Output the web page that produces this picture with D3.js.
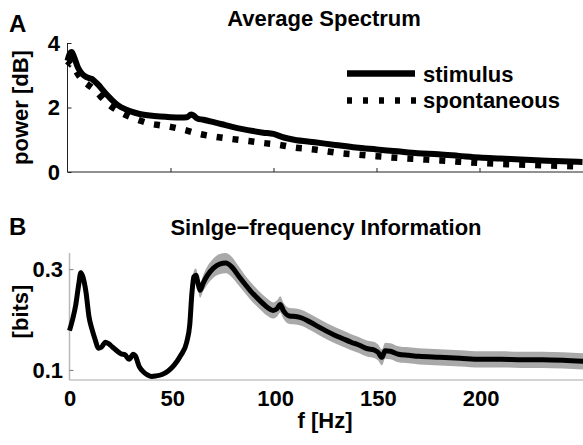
<!DOCTYPE html>
<html>
<head>
<meta charset="utf-8">
<script src="https://cdn.jsdelivr.net/npm/d3@7"></script>
<style>
  body { margin: 0; background: #fff; }
  text { font-family: "Liberation Sans", Arial, sans-serif; font-weight: bold; }
</style>
</head>
<body>
<div id="chart"></div>
<script>
// panel A: average spectrum
const specFreq = [0, 1, 2, 3, 5, 7, 9, 11, 12, 13, 15, 17, 19, 21, 23, 25, 28, 31, 35, 40, 45, 50, 55, 58, 60, 61, 63, 66, 70, 75, 80, 85, 90, 95, 100, 105, 110, 120, 130, 140, 150, 160, 170, 180, 190, 200, 210, 220, 230, 240, 250];
const stimulus = [3.45, 3.65, 3.72, 3.6, 3.25, 3.05, 2.95, 2.9, 2.88, 2.82, 2.7, 2.55, 2.4, 2.27, 2.15, 2.05, 1.95, 1.87, 1.8, 1.75, 1.72, 1.7, 1.69, 1.7, 1.78, 1.76, 1.66, 1.62, 1.56, 1.48, 1.4, 1.33, 1.27, 1.22, 1.18, 1.07, 1.0, 0.92, 0.84, 0.76, 0.7, 0.64, 0.58, 0.55, 0.5, 0.45, 0.42, 0.39, 0.36, 0.33, 0.31];
const spontFreq = [0, 2, 4, 6, 8, 10, 13, 16, 19, 22, 25, 30, 35, 40, 45, 50, 57, 64, 72, 80, 88, 95, 103, 110, 118, 126, 133, 141, 150, 160, 170, 181, 190, 200, 215, 230, 250];
const spontaneous = [3.3, 3.4, 3.15, 2.95, 2.8, 2.7, 2.55, 2.35, 2.15, 2.0, 1.88, 1.72, 1.6, 1.5, 1.45, 1.4, 1.3, 1.18, 1.09, 1.02, 0.96, 0.9, 0.84, 0.76, 0.71, 0.64, 0.58, 0.54, 0.49, 0.44, 0.4, 0.36, 0.32, 0.28, 0.24, 0.21, 0.17];

// panel B: single-frequency information
const infoFreq = [0, 1.5, 3, 4.5, 5.5, 6.5, 8, 9.5, 11, 12.5, 14, 15.5, 17.5, 19, 21, 23, 25, 27, 29, 31, 32, 34, 36, 38, 40, 42, 45, 48, 51, 54, 57, 58.5, 59.5, 60.5, 61.5, 62.5, 63.5, 65, 67, 70, 73, 76, 79, 82, 85, 88, 92, 96, 99, 101, 102.5, 104, 107, 110, 113, 117, 121, 125, 129, 133, 137, 141, 145, 148, 150, 152, 153.5, 156, 160, 165, 170, 180, 190, 200, 210, 220, 230, 240, 250];
const info = [0.178, 0.2, 0.228, 0.27, 0.293, 0.285, 0.255, 0.205, 0.18, 0.16, 0.143, 0.145, 0.155, 0.152, 0.145, 0.138, 0.132, 0.13, 0.121, 0.131, 0.128, 0.106, 0.096, 0.09, 0.087, 0.088, 0.091, 0.098, 0.11, 0.128, 0.155, 0.19, 0.25, 0.285, 0.288, 0.272, 0.258, 0.272, 0.287, 0.302, 0.31, 0.312, 0.304, 0.288, 0.272, 0.257, 0.24, 0.225, 0.218, 0.222, 0.23, 0.218, 0.207, 0.206, 0.203, 0.195, 0.186, 0.177, 0.169, 0.162, 0.155, 0.149, 0.142, 0.14, 0.135, 0.125, 0.138, 0.137, 0.131, 0.129, 0.127, 0.125, 0.123, 0.121, 0.121, 0.12, 0.12, 0.119, 0.117];
const infoErr = [0.005, 0.005, 0.005, 0.005, 0.006, 0.006, 0.005, 0.005, 0.004, 0.004, 0.004, 0.004, 0.004, 0.004, 0.004, 0.004, 0.004, 0.004, 0.004, 0.004, 0.004, 0.004, 0.004, 0.004, 0.004, 0.004, 0.004, 0.005, 0.005, 0.006, 0.007, 0.008, 0.01, 0.012, 0.013, 0.014, 0.015, 0.016, 0.018, 0.019, 0.02, 0.02, 0.02, 0.019, 0.018, 0.018, 0.017, 0.017, 0.016, 0.016, 0.016, 0.016, 0.016, 0.016, 0.016, 0.016, 0.016, 0.016, 0.016, 0.016, 0.016, 0.016, 0.016, 0.016, 0.016, 0.016, 0.016, 0.016, 0.016, 0.016, 0.016, 0.016, 0.016, 0.016, 0.016, 0.016, 0.016, 0.016, 0.016];

const xTicks = [0, 50, 100, 150, 200];
const yTicksA = [0, 2, 4];
const yTicksB = [0.1, 0.3];

const width = 583, height = 445;

const svg = d3.select("#chart")
    .append("svg")
    .attr("width", width)
    .attr("height", height);

// ---------- panel A ----------
const xA = d3.scaleLinear().domain([0, 250]).range([67.5, 582.5]);
const yA = d3.scaleLinear().domain([0, 4]).range([172, 43]);

const gA = svg.append("g");

gA.append("g")
    .attr("transform", `translate(0, ${yA(0)})`)
    .call(d3.axisTop(xA).tickValues(xTicks.slice(1)).tickSize(4).tickFormat(""))
    .call(g => g.select(".domain").attr("d", `M${xA(0)},0H${width}`).attr("stroke", "#222"))
    .call(g => g.selectAll(".tick line").attr("stroke", "#222"));

gA.append("g")
    .attr("transform", `translate(${xA(0)}, 0)`)
    .call(d3.axisRight(yA).tickValues(yTicksA).tickSize(4).tickFormat(""))
    .call(g => g.select(".domain").attr("d", `M0,${yA(4)}V${yA(0)}`).attr("stroke", "#222"))
    .call(g => g.selectAll(".tick line").attr("stroke", "#222"));

gA.selectAll(".ylabA")
    .data(yTicksA)
    .join("text")
    .attr("x", 60)
    .attr("y", d => yA(d))
    .attr("dy", "0.36em")
    .attr("text-anchor", "end")
    .style("font-size", "22px")
    .text(d => d);

const lineA = d3.line()
    .x(d => xA(d[0]))
    .y(d => yA(d[1]))
    .curve(d3.curveMonotoneX);

gA.append("path")
    .datum(d3.zip(spontFreq, spontaneous))
    .attr("fill", "none")
    .attr("stroke", "#000")
    .attr("stroke-width", 6.5)
    .attr("stroke-dasharray", "6 10")
    .attr("d", lineA);

gA.append("path")
    .datum(d3.zip(specFreq, stimulus))
    .attr("fill", "none")
    .attr("stroke", "#000")
    .attr("stroke-width", 6)
    .attr("stroke-linejoin", "round")
    .attr("d", lineA);

// legend
const legend = gA.append("g");
legend.append("line")
    .attr("x1", 347).attr("x2", 415).attr("y1", 73.5).attr("y2", 73.5)
    .attr("stroke", "#000").attr("stroke-width", 6.5);
legend.append("text")
    .attr("x", 423).attr("y", 81.5)
    .style("font-size", "22px")
    .text("stimulus");
legend.append("line")
    .attr("x1", 347).attr("x2", 416).attr("y1", 100.5).attr("y2", 100.5)
    .attr("stroke", "#000").attr("stroke-width", 6.5)
    .attr("stroke-dasharray", "5 11");
legend.append("text")
    .attr("x", 423).attr("y", 108)
    .style("font-size", "22px")
    .text("spontaneous");

gA.append("text")
    .attr("x", 324).attr("y", 26)
    .attr("text-anchor", "middle")
    .style("font-size", "22px")
    .text("Average Spectrum");

gA.append("text")
    .attr("x", 9).attr("y", 32)
    .style("font-size", "24px")
    .text("A");

gA.append("text")
    .attr("transform", `translate(28, ${107.5}) rotate(-90)`)
    .attr("text-anchor", "middle")
    .style("font-size", "22px")
    .text("power [dB]");

// ---------- panel B ----------
const xB = d3.scaleLinear().domain([0, 250]).range([69.5, 583.5]);
const yB = d3.scaleLinear().domain([0.08, 0.332]).range([380, 253]);

const gB = svg.append("g");
const infoData = infoFreq.map((f, i) => ({ f: f, v: info[i], e: infoErr[i] }));

gB.append("path")
    .datum(infoData)
    .attr("fill", "#a9a9a9")
    .attr("d", d3.area()
        .x(d => xB(d.f))
        .y0(d => yB(d.v - d.e))
        .y1(d => yB(d.v + d.e))
        .curve(d3.curveMonotoneX));

gB.append("g")
    .attr("transform", `translate(0, ${yB.range()[0]})`)
    .call(d3.axisBottom(xB).tickValues(xTicks).tickSize(0).tickPadding(10))
    .call(g => g.select(".domain").attr("d", `M${xB(0)},0H${width}`).attr("stroke", "#c4c4c4").attr("stroke-width", 1.5))
    .call(g => g.selectAll(".tick text")
        .style("font-size", "22px")
        .style("font-family", "'Liberation Sans', Arial, sans-serif")
        .attr("fill", "#000"));

gB.append("g")
    .attr("transform", `translate(${xB(0)}, 0)`)
    .call(d3.axisRight(yB).tickValues(yTicksB).tickSize(4).tickFormat(""))
    .call(g => g.select(".domain").attr("d", `M0,${yB.range()[1]}V${yB.range()[0]}`).attr("stroke", "#b8b8b8").attr("stroke-width", 1.5))
    .call(g => g.selectAll(".tick line").attr("stroke", "#777"));

gB.selectAll(".ylabB")
    .data(yTicksB)
    .join("text")
    .attr("x", 63)
    .attr("y", d => yB(d))
    .attr("dy", "0.36em")
    .attr("text-anchor", "end")
    .style("font-size", "22px")
    .text(d => d3.format(".1f")(d));

gB.append("path")
    .datum(infoData)
    .attr("fill", "none")
    .attr("stroke", "#000")
    .attr("stroke-width", 5)
    .attr("stroke-linejoin", "round")
    .attr("d", d3.line()
        .x(d => xB(d.f))
        .y(d => yB(d.v))
        .curve(d3.curveMonotoneX));

gB.append("text")
    .attr("x", 326).attr("y", 235)
    .attr("text-anchor", "middle")
    .style("font-size", "22px")
    .text("Sinlge\u2212frequency Information");

gB.append("text")
    .attr("x", 9).attr("y", 235)
    .style("font-size", "24px")
    .text("B");

gB.append("text")
    .attr("transform", `translate(28, ${311.5}) rotate(-90)`)
    .attr("text-anchor", "middle")
    .style("font-size", "22px")
    .text("[bits]");

gB.append("text")
    .attr("x", 325).attr("y", 428)
    .attr("text-anchor", "middle")
    .style("font-size", "22px")
    .text("f [Hz]");
</script>
</body>
</html>
